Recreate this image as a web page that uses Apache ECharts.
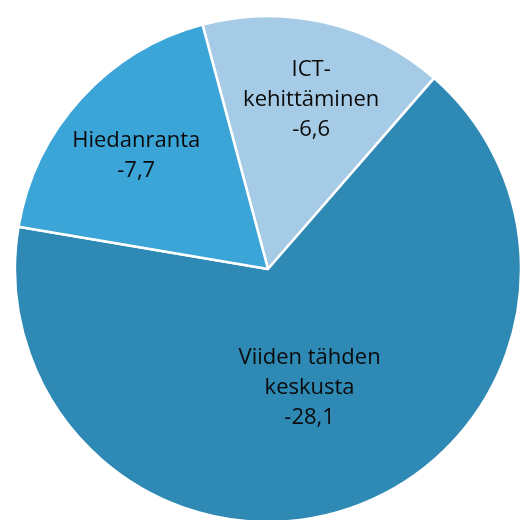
<!DOCTYPE html>
<html>
<head>
<meta charset="utf-8">
<script src="https://cdn.jsdelivr.net/npm/echarts@6/dist/echarts.min.js"></script>
<style>html,body{margin:0;padding:0;background:#fff}#c{width:528px;height:520px}</style>
</head>
<body>
<div id="c"></div>
<script>
const categories = ["ICT-\nkehittäminen", "Viiden tähden\nkeskusta", "Hiedanranta"];
const values = [-6.6, -28.1, -7.7];
const colors = ["#a6cbe6", "#2e89b4", "#3ba5d8"];
const labelShift = [[14, -43], [-2, -3], [-36, -26]];

const chart = echarts.init(document.getElementById('c'));
chart.setOption({
  animation: false,
  series: [{
    type: 'pie',
    center: [268, 269],
    radius: 253,
    startAngle: 105,
    clockwise: true,
    data: categories.map((c, i) => ({
      name: c,
      value: Math.abs(values[i]),
      itemStyle: { color: colors[i] }
    })),
    itemStyle: { borderColor: '#fff', borderWidth: 2.5 },
    label: {
      position: 'inside',
      color: '#0a0a0a',
      fontSize: 22,
      fontFamily: 'Open Sans',
      lineHeight: 30,
      align: 'center',
      formatter: p => p.name + '\n' + String(values[p.dataIndex]).replace('.', ',')
    },
    labelLayout: p => ({ dx: labelShift[p.dataIndex][0], dy: labelShift[p.dataIndex][1] }),
    labelLine: { show: false },
    emphasis: { disabled: true }
  }]
});
</script>
</body>
</html>
